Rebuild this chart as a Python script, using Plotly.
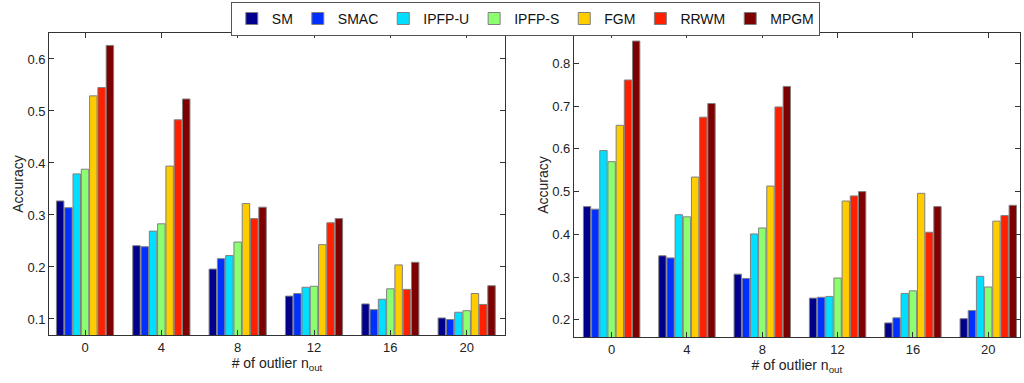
import plotly.graph_objects as go
from plotly.subplots import make_subplots

categories = ["0", "4", "8", "12", "16", "20"]
methods = ["SM", "SMAC", "IPFP-U", "IPFP-S", "FGM", "RRWM", "MPGM"]
colors = ["#00008C", "#0030FF", "#00DFFF", "#8CFF70", "#FFCC00", "#FF2000", "#7F0000"]

# left panel accuracy values per method (outlier 0,4,8,12,16,20)
left_SM     = [0.327, 0.241, 0.196, 0.144, 0.129, 0.102]
left_SMAC   = [0.314, 0.239, 0.216, 0.149, 0.118, 0.099]
left_IPFP_U = [0.379, 0.269, 0.222, 0.161, 0.138, 0.113]
left_IPFP_S = [0.388, 0.283, 0.248, 0.163, 0.158, 0.116]
left_FGM    = [0.529, 0.394, 0.322, 0.243, 0.204, 0.149]
left_RRWM   = [0.545, 0.483, 0.293, 0.285, 0.157, 0.128]
left_MPGM   = [0.626, 0.523, 0.315, 0.293, 0.209, 0.164]

# right panel accuracy values per method
right_SM     = [0.465, 0.350, 0.307, 0.251, 0.193, 0.203]
right_SMAC   = [0.459, 0.345, 0.297, 0.253, 0.205, 0.222]
right_IPFP_U = [0.596, 0.446, 0.401, 0.255, 0.262, 0.302]
right_IPFP_S = [0.570, 0.441, 0.415, 0.298, 0.268, 0.277]
right_FGM    = [0.655, 0.534, 0.513, 0.478, 0.496, 0.431]
right_RRWM   = [0.761, 0.674, 0.698, 0.490, 0.405, 0.444]
right_MPGM   = [0.852, 0.706, 0.746, 0.500, 0.465, 0.468]

left_vals = [left_SM, left_SMAC, left_IPFP_U, left_IPFP_S, left_FGM, left_RRWM, left_MPGM]
right_vals = [right_SM, right_SMAC, right_IPFP_U, right_IPFP_S, right_FGM, right_RRWM, right_MPGM]

left_yticks = [0.1, 0.2, 0.3, 0.4, 0.5, 0.6]
right_yticks = [0.2, 0.3, 0.4, 0.5, 0.6, 0.7, 0.8]

fig = make_subplots(rows=1, cols=2)

for i, m in enumerate(methods):
    fig.add_trace(go.Bar(x=categories, y=left_vals[i], name=m, marker_color=colors[i],
                         marker_line_color="#808080", marker_line_width=1,
                         legendgroup=m, showlegend=True), row=1, col=1)
for i, m in enumerate(methods):
    fig.add_trace(go.Bar(x=categories, y=right_vals[i], name=m, marker_color=colors[i],
                         marker_line_color="#808080", marker_line_width=1,
                         legendgroup=m, showlegend=False), row=1, col=2)

font_family = "Liberation Sans, Arial, sans-serif"
axis_common = dict(showline=True, linecolor="#333333", linewidth=1, mirror="ticks",
                   ticks="inside", ticklen=5, tickcolor="#333333", showgrid=False,
                   zeroline=False, automargin=False,
                   tickfont=dict(size=13, color="#222222"))

fig.update_xaxes(**axis_common)
fig.update_yaxes(**axis_common)

fig.update_layout(
    width=1024, height=383,
    margin=dict(l=0, r=0, t=0, b=0, autoexpand=False),
    paper_bgcolor="white", plot_bgcolor="white",
    font=dict(family=font_family, color="#222222"),
    barmode="group", bargap=0.24, bargroupgap=0.1,
    xaxis=dict(domain=[0.048, 0.493], range=[-0.47, 5.5],
               title=dict(text="# of outlier n<sub>out</sub>", font=dict(size=14), standoff=2)),
    xaxis2=dict(domain=[0.5605, 0.996], range=[-0.5, 5.42],
                title=dict(text="# of outlier n<sub>out</sub>", font=dict(size=14), standoff=2)),
    yaxis=dict(domain=[0.125, 0.914], range=[0.069, 0.65], tickvals=left_yticks,
               tickformat=".1f",
               title=dict(text="Accuracy", font=dict(size=14), standoff=0)),
    yaxis2=dict(domain=[0.12, 0.914], range=[0.16, 0.871], tickvals=right_yticks,
                tickformat=".1f",
                title=dict(text="Accuracy", font=dict(size=14), standoff=0)),
    legend=dict(orientation="h", x=0.513, xanchor="center", y=0.995, yanchor="top",
                bordercolor="#555555", borderwidth=1, bgcolor="white",
                font=dict(size=14, color="#111111"), itemwidth=30,
                tracegroupgap=0, traceorder="normal"),
)

fig.write_html("out.html", config={"displayModeBar": False},
               post_script="document.body.style.margin='0';document.body.style.overflow='hidden';")
